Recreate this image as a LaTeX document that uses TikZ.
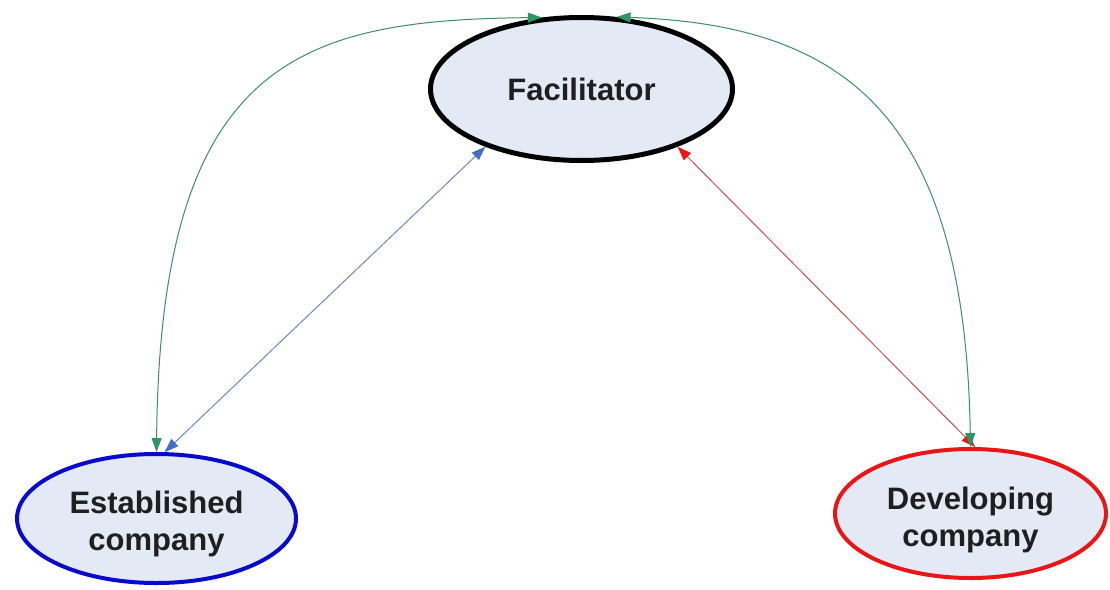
\documentclass[tikz,border=0pt]{standalone}
\usepackage{fontspec}
\setmainfont{Liberation Sans}
\usetikzlibrary{arrows.meta,shapes.geometric}

\definecolor{nodefill}{RGB}{227,233,245}
\definecolor{estblue}{RGB}{10,10,205}
\definecolor{devred}{RGB}{232,22,22}
\definecolor{linkgreen}{RGB}{60,140,105}
\definecolor{headgreen}{RGB}{45,150,100}
\definecolor{linkblue}{RGB}{110,135,190}
\definecolor{headblue}{RGB}{70,110,190}
\definecolor{linkred}{RGB}{200,80,80}
\definecolor{headred}{RGB}{235,20,20}

\tikzset{
    linktip/.tip={Triangle[length=14pt, width=10pt]},
    party/.style={ellipse, fill=nodefill, inner sep=0pt, align=center,
        text=black!88, font=\fontsize{31}{37}\selectfont\bfseries},
    greenlink/.style={linkgreen, line width=1pt, {linktip[color=headgreen]}-{linktip[color=headgreen]}},
    bluelink/.style={linkblue, line width=1pt, {linktip[color=headblue]}-{linktip[color=headblue]}},
    redlink/.style={linkred, line width=1pt, {linktip[color=headred]}-{linktip[color=headred]}}
}

\begin{document}
\begin{tikzpicture}[x=1pt, y=-1pt]
        \useasboundingbox (0,0) rectangle (1110,589);

        \node[party, draw=black, line width=5pt, minimum width=302pt, minimum height=143pt] (facilitator) at (581.5,89) {Facilitator};
        \node[party, draw=estblue, line width=4pt, minimum width=279pt, minimum height=129pt] (established) at (156.5,518.5) {\rule{0pt}{34pt}Established\\company};
        \node[party, draw=devred, line width=4pt, minimum width=271pt, minimum height=129pt] (developing) at (970.5,513.5) {\rule{0pt}{36pt}Developing\\company};

        % direct links
        \draw [bluelink] (established.83) -- (facilitator.211);
        \draw [redlink] (facilitator.329) -- (developing.86);

        % links over the top
        \draw [greenlink] (established.north) .. controls (160,60) and (300,20) .. (facilitator.119);
        \draw [greenlink] (facilitator.64) .. controls (850,25) and (965,120) .. (developing.north);

\end{tikzpicture}
\end{document}
